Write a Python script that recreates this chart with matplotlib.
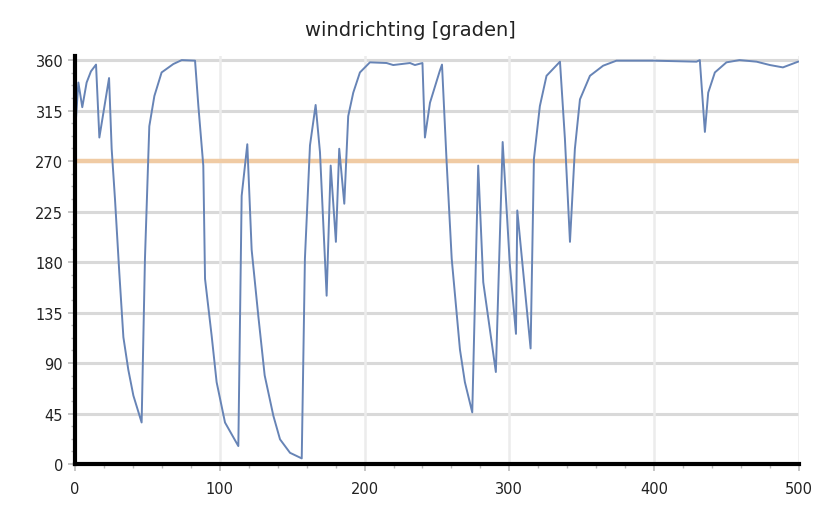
import numpy as np
import matplotlib.pyplot as plt
from matplotlib.ticker import MultipleLocator

# wind direction trace
xs = [0.7, 2.3, 5.0, 8.0, 11.0, 14.5, 16.8, 23.5, 25.3, 27.6, 30.6, 33.4, 36.8, 40.3, 46.0,
      48.3, 51.3, 54.8, 59.8, 67.9, 73.7, 82.9, 85.2, 88.6, 89.8, 94.4, 97.8, 103.6, 112.8,
      115.1, 119.0, 122.0, 126.6, 131.0, 137.0, 141.6, 148.5, 156.6, 158.8, 162.3, 166.2,
      169.2, 173.8, 176.6, 180.2, 182.5, 186.0, 188.7, 192.2, 196.8, 203.7, 215.2, 219.8,
      231.4, 234.8, 240.0, 241.7, 245.2, 252.0, 253.5, 256.7, 260.2, 265.9, 269.3, 274.4,
      278.5, 282.0, 290.7, 295.4, 300.4, 304.6, 305.5, 314.7, 317.0, 321.1, 325.7, 335.0,
      338.4, 341.9, 345.3, 348.8, 355.7, 364.8, 374.0, 399.4, 429.3, 431.6, 435.1, 437.4,
      442.0, 450.0, 459.0, 470.8, 480.0, 489.0, 499.5]
ys = [309, 340, 318, 340, 350, 356, 291, 344, 281, 236, 170, 113, 84, 61, 37,
      183, 301, 328, 349, 356.5, 360, 359.5, 319, 266, 165, 114, 73, 37, 16,
      239, 285, 191, 132, 79, 43, 22, 10, 5, 183, 284, 320,
      278, 150, 266, 198, 281, 232, 310, 331, 349, 358, 357.4, 355.6,
      357.4, 355.6, 357.4, 291, 322, 350.5, 356, 269, 183, 102, 73, 46,
      266, 162, 82, 287, 177, 116, 226, 103, 272, 319, 346, 358.6,
      290, 198, 281, 325, 346, 355, 359.5, 359.5, 358.6, 360, 296, 331,
      349, 358, 360, 358.6, 355.6, 353.5, 358.6]
ref_level = 270
yticks = [0, 45, 90, 135, 180, 225, 270, 315, 360]
xticks = [0, 100, 200, 300, 400, 500]

fig = plt.figure(figsize=(8.21, 5.10), dpi=100)
ax = fig.add_axes([0.0914, 0.0882, 0.8816, 0.8008])

for yv in yticks:
    ax.axhline(yv, color='#d9d9d9', lw=2.2, zorder=0)
for xv in xticks:
    ax.axvline(xv, color='#ececec', lw=1.8, zorder=0)

ax.axhline(ref_level, color='#f0cba4', lw=3.2, zorder=1)
ax.plot(xs, ys, color='#6784b6', lw=1.4, zorder=2)

ax.set_xlim(0, 500)
ax.set_ylim(0, 364)
ax.set_xticks(xticks)
ax.set_yticks(yticks)
ax.xaxis.set_minor_locator(MultipleLocator(20))
ax.yaxis.set_minor_locator(MultipleLocator(11.25))
ax.tick_params(axis='both', which='major', length=5, width=1.2, color='#bbbbbb',
               labelsize=10.5, labelcolor='#222222')
ax.tick_params(axis='x', which='major', pad=7)
ax.tick_params(axis='both', which='minor', length=3, width=1.0, color='#bbbbbb')

for s in ['top', 'right']:
    ax.spines[s].set_visible(False)
for s in ['left', 'bottom']:
    ax.spines[s].set_linewidth(3)
    ax.spines[s].set_color('black')

fig.text(0.5, 0.94, 'windrichting [graden]', ha='center', va='center', fontsize=14,
         color='#222222')

fig.savefig('out.png', dpi=100)
